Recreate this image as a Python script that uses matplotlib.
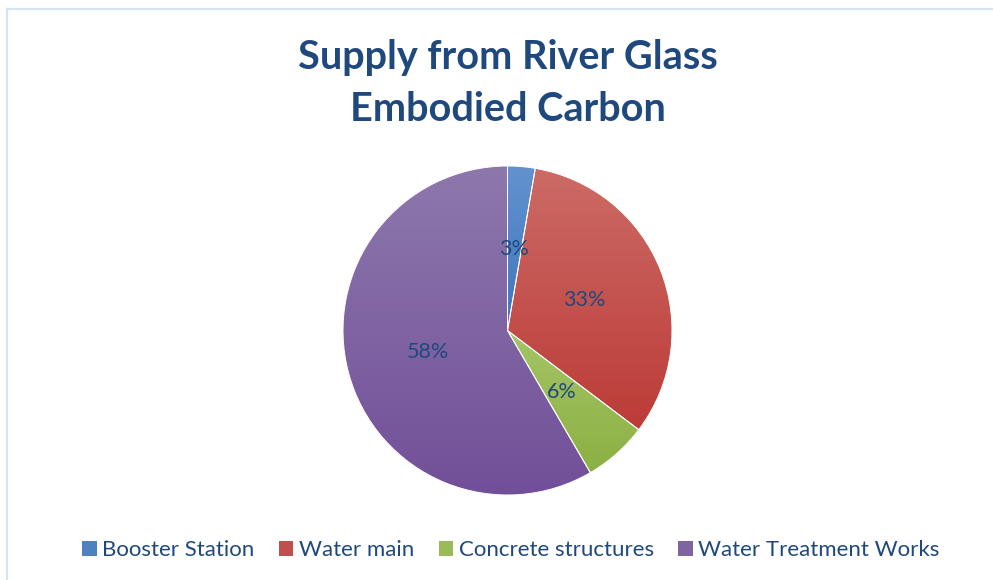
import numpy as np
import matplotlib
matplotlib.use("Agg")
import matplotlib.pyplot as plt
from matplotlib.patches import Patch
from matplotlib.lines import Line2D
from matplotlib.colors import to_rgb

# ---- data ----
categories = ["Booster Station", "Water main", "Concrete structures", "Water Treatment Works"]
values = [2.7, 32.6, 6.3, 58.4]
title = "Supply from River Glass\nEmbodied Carbon"

# gradient colours (top, bottom) for each slice
top_colors = ["#6392CE", "#CC6B66", "#A6C466", "#8D78AC"]
bottom_colors = ["#3F76BE", "#BC3B37", "#8BB043", "#724F99"]
base_colors = ["#4F81BD", "#C0504D", "#9BBB59", "#8064A2"]
text_color = "#1F497D"

plt.rcParams['font.family'] = ['Lato', 'DejaVu Sans']

W, H = 993, 580
fig = plt.figure(figsize=(W / 100, H / 100), dpi=100)
fig.patch.set_facecolor("white")

# frame lines (left & top)
fig.add_artist(Line2D([6.5 / W, 6.5 / W], [0, 1 - 8.5 / H], transform=fig.transFigure,
                      color="#D5E3F3", lw=1.6))
fig.add_artist(Line2D([6.5 / W, 1], [1 - 8.5 / H, 1 - 8.5 / H], transform=fig.transFigure,
                      color="#D5E3F3", lw=1.6))

cx, cy, r = 507.5, 330.5, 164.5 * 1.01
ax = fig.add_axes([(cx - r) / W, (H - cy - r) / H, 2 * r / W, 2 * r / H])
wedges, texts, autotexts = ax.pie(values, colors=base_colors, startangle=90, counterclock=False,
                                  autopct='%1.0f%%', pctdistance=0.5,
                                  wedgeprops=dict(edgecolor="white", linewidth=0.7),
                                  textprops=dict(color=text_color, fontsize=15.5))
ax.set_xlim(-1.01, 1.01)
ax.set_ylim(-1.01, 1.01)
ax.set_aspect('equal')
ax.axis('off')

# gradient fill per wedge
for w, tc, bc in zip(wedges, top_colors, bottom_colors):
    verts = w.get_patch_transform().transform(w.get_path().vertices)
    x0, x1 = verts[:, 0].min(), verts[:, 0].max()
    y0, y1 = verts[:, 1].min(), verts[:, 1].max()
    t = np.linspace(0, 1, 256)[:, None]
    c_top = np.array(to_rgb(tc)); c_bot = np.array(to_rgb(bc))
    grad = c_top[None, None, :] * (1 - t[:, :, None]) + c_bot[None, None, :] * t[:, :, None]
    grad = np.repeat(grad, 2, axis=1)
    im = ax.imshow(grad, extent=[x0, x1, y0, y1], origin='upper', aspect='auto',
                   zorder=w.get_zorder() + 0.1, interpolation='bilinear')
    im.set_clip_path(w)
    w.set_zorder(w.get_zorder() + 0.2)
    w.set_facecolor('none')
for t_ in autotexts:
    t_.set_zorder(10)

fig.text(cx / W, 1 - 83.5 / H, title, ha='center', va='center', fontsize=28.5,
         fontweight='bold', color=text_color, linespacing=1.47)

handles = [Patch(facecolor=c, edgecolor='none') for c in base_colors]
leg = fig.legend(handles, categories, loc='center', bbox_to_anchor=(511 / W, 1 - 550 / H),
                 ncol=4, frameon=False, fontsize=16, handlelength=0.65, handleheight=0.65,
                 handletextpad=0.25, columnspacing=1.1, labelcolor=text_color)

fig.savefig("out.png", dpi=100, facecolor="white")
